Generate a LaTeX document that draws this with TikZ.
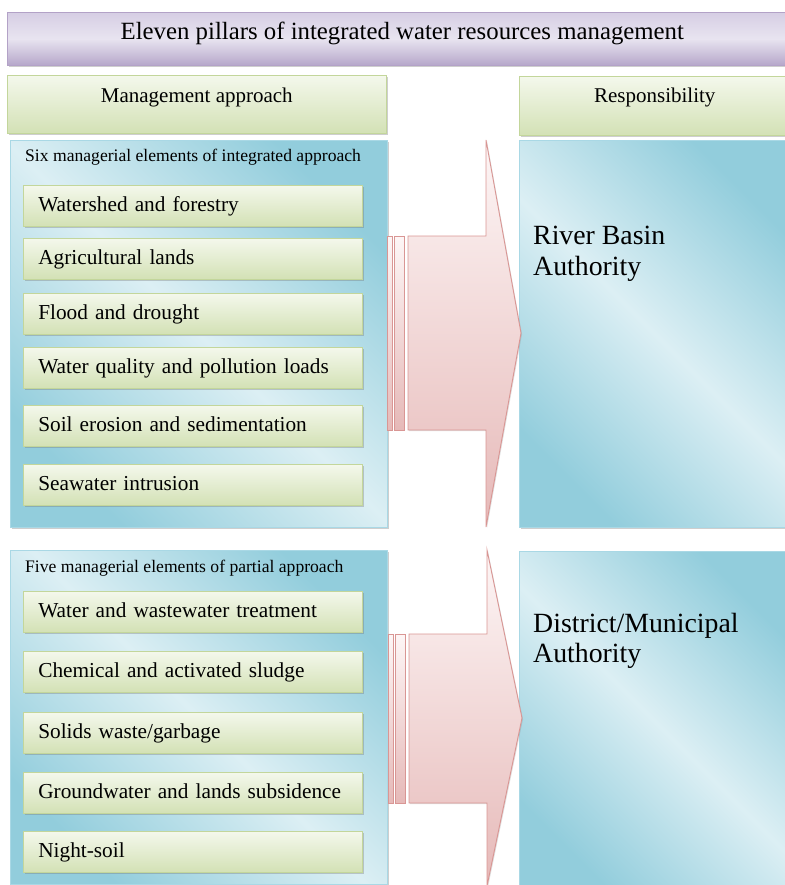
\documentclass[tikz,border=0pt]{standalone}
\usepackage{fontspec}
\setmainfont{Liberation Serif}
\usetikzlibrary{shadows}
\definecolor{titletop}{HTML}{D6CEE4}
\definecolor{titlemid}{HTML}{E8E4F0}
\definecolor{titlebot}{HTML}{B6A7CA}
\definecolor{titleline}{HTML}{B3A2C7}
\definecolor{greentop}{HTML}{F4F8EC}
\definecolor{greenbot}{HTML}{D3E1B5}
\definecolor{greenline}{HTML}{C3D69B}
\definecolor{bluedark}{HTML}{92CDDC}
\definecolor{bluelight}{HTML}{DCEFF4}
\definecolor{blueline}{HTML}{A9D8E5}
\definecolor{pinktop}{HTML}{FDF6F6}
\definecolor{pinkbot}{HTML}{E6B9B8}
\definecolor{pinkline}{HTML}{D99694}
\begin{document}
\begin{tikzpicture}[x=1pt,y=-1pt,
  softshadow/.style={drop shadow={shadow xshift=1.2pt, shadow yshift=-1.5pt, opacity=0.35, fill=black!55}},
  titlebox/.style={draw=titleline, line width=0.6pt, top color=titletop, bottom color=titlebot, middle color=titlemid,
    minimum width=790pt, minimum height=53pt, anchor=north west, inner sep=0pt,
    font=\fontsize{24.8}{28}\selectfont, text height=12pt, text depth=10pt, softshadow},
  headbox/.style={draw=greenline, line width=0.6pt, top color=greentop, bottom color=greenbot,
    anchor=north west, inner sep=0pt, font=\fontsize{21}{24}\selectfont, softshadow},
  itembox/.style={draw=greenline, line width=0.6pt, top color=greentop, bottom color=greenbot,
    minimum width=339pt, minimum height=41pt, anchor=north west, inner xsep=15pt, inner ysep=0pt,
    text width=309pt, align=left, font=\fontsize{21.3}{24}\selectfont, text height=16pt, text depth=5pt, softshadow},
  panelbox/.style={draw=blueline, line width=0.6pt, top color=bluedark, bottom color=bluedark, middle color=bluelight,
    shading angle=-45, anchor=north west, inner sep=0pt, softshadow},
  paneltitle/.style={anchor=base west, inner sep=0pt, font=\fontsize{17.6}{20}\selectfont},
  resptext/.style={anchor=base west, inner sep=0pt, font=\fontsize{27.8}{31}\selectfont},
  blockarrow/.style={draw=pinkline, line width=0.9pt, top color=pinktop, bottom color=pinkbot,
    drop shadow={shadow xshift=1pt, shadow yshift=-1.2pt, opacity=0.25, fill=black!50}}
]
\useasboundingbox (0,0) rectangle (784,885);

% title
\node[titlebox] (title) at (7,12) {Eleven pillars of integrated water resources management};

% headers
\node[headbox, minimum width=379pt, minimum height=58pt, text height=8pt, text depth=12pt] (hleft) at (7,75) {Management approach};
\node[headbox, minimum width=271pt, minimum height=59pt, text height=6pt, text depth=13pt] (hright) at (519,76) {Responsibility};

% left panels
\node[panelbox, minimum width=377pt, minimum height=387pt] (pone) at (10,140) {};
\node[panelbox, minimum width=377pt, minimum height=334pt] (ptwo) at (10,550) {};

% right panels
\node[panelbox, minimum width=271pt, minimum height=387pt] (rone) at (519,140) {};
\node[panelbox, minimum width=271pt, minimum height=340pt] (rtwo) at (519,551) {};

% panel titles
\node[paneltitle] (ponetitle) at (25,162) {Six managerial elements of integrated approach};
\node[paneltitle] (ptwotitle) at (25,572) {Five managerial elements of partial approach};

% items, integrated approach
\node[itembox] (ia) at (23,185) {Watershed and forestry};
\node[itembox] (ib) at (23,238) {Agricultural lands};
\node[itembox] (ic) at (23,293) {Flood and drought};
\node[itembox] (id) at (23,347) {Water quality and pollution loads};
\node[itembox] (ie) at (23,405) {Soil erosion and sedimentation};
\node[itembox] (if) at (23,464) {Seawater intrusion};

% items, partial approach
\node[itembox] (pa) at (23,591) {Water and wastewater treatment};
\node[itembox] (pb) at (23,651) {Chemical and activated sludge};
\node[itembox] (pc) at (23,712) {Solids waste/garbage};
\node[itembox] (pd) at (23,772) {Groundwater and lands subsidence};
\node[itembox] (pe) at (23,831) {Night-soil};

% responsibility texts
\node[resptext] (rba) at (533,244) {River Basin};
\node[resptext] (rbb) at (533,275) {Authority};
\node[resptext] (dma) at (533,632) {District/Municipal};
\node[resptext] (dmb) at (533,662) {Authority};

% block arrows
\draw[blockarrow] (387,236) rectangle (392,430);
\draw[blockarrow] (394,236) rectangle (404,430);
\draw[blockarrow] (408,236) -- (486,236) -- (486,140) -- (521,333) -- (486,527) -- (486,430) -- (408,430) -- cycle;

\draw[blockarrow] (388,634) rectangle (393,803);
\draw[blockarrow] (395,634) rectangle (405,803);
\draw[blockarrow] (409,634) -- (487,634) -- (487,550) -- (522,718) -- (487,886) -- (487,803) -- (409,803) -- cycle;
\end{tikzpicture}
\end{document}
